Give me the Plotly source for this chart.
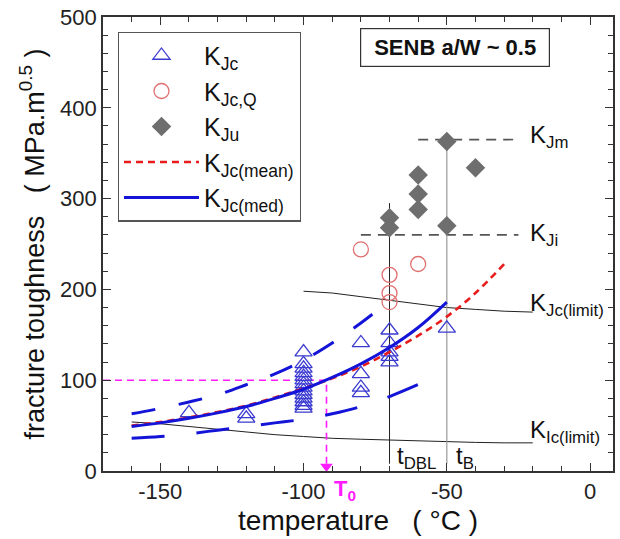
import plotly.graph_objects as go

# ---- measured fracture toughness (MPa.m^0.5) vs test temperature (°C) ----
kjc_t = [-140, -120, -120,
         -100, -100, -100, -100, -100, -100, -100, -100, -100, -100, -100, -100, -100, -100,
         -80, -80, -80, -80,
         -70, -70, -70, -70, -70,
         -50]
kjc_k = [64, 63, 58,
         131, 118, 113, 108, 104, 100, 96, 92, 88, 84, 80, 76, 72, 69,
         141, 107, 92, 86,
         155, 141, 131, 126, 120,
         157]

kjcq_t = [-80, -70, -70, -70, -60]
kjcq_k = [244, 216, 196, 186, 228]

kju_t = [-70, -70, -60, -60, -60, -50, -50, -40]
kju_k = [279, 268, 326, 305, 288, 363, 270, 334]

# ---- master curve and tolerance bounds ----
med_t = [-160, -150, -140, -130, -120, -110, -100, -90, -80, -70, -60, -50]
med_k = [49, 53, 58, 64, 71, 80, 90, 103, 118, 136, 158, 186]

mean_t = [-160, -150, -140, -130, -120, -110, -100, -90, -80, -70, -60, -50, -40, -30]
mean_k = [50, 54, 59, 65, 72, 81, 91, 102, 115, 131, 149, 170, 196, 228]

upper_t = [-160, -150, -140, -130, -120, -110, -100, -90, -80, -73]
upper_k = [63, 69, 76, 84, 95, 107, 122, 141, 163, 180]

lower_t = [-160, -150, -140, -130, -120, -110, -100, -90, -80, -70, -58]
lower_k = [36, 38, 41, 45, 49, 53, 57, 63, 71, 82, 98]

# ---- validity limits ----
jlim_t = [-100, -90, -80, -70, -60, -50, -40, -30, -20]
jlim_k = [198, 196, 192, 188, 184, 180, 178, 176, 175]

ilim_t = [-160, -150, -140, -130, -120, -110, -100, -90, -80, -70, -60, -50, -40, -30, -20]
ilim_k = [54, 52, 49, 46, 43, 40, 38, 36, 35, 34, 33, 32, 31.5, 31, 31]

# ---- reference levels ----
t0 = -92
k_t0 = 100
t_dbl = -70
t_b = -50
k_ji = 260
k_jm = 365
k_ji_start = -80
k_jm_start = -60
level_end = -25
label_t = -21.5

# ---- axis ticks ----
x_ticks = [-150, -100, -50, 0]
x_tick_text = ["-150", "-100", "-50", "0"]
y_ticks = [0, 100, 200, 300, 400, 500]

FONT = "Liberation Sans, Arial, sans-serif"
BLUE = "#1414d8"
TRI = "#3a3ad0"
RED = "#e81c1c"
CIRC = "#e07070"
GRAY = "#6e6e6e"
MAG = "#ff1cff"
NB = "\u00a0"

fig = go.Figure()

# guide lines (no legend)
fig.add_trace(go.Scatter(x=jlim_t, y=jlim_k, mode="lines", line=dict(color="#222", width=1),
                         showlegend=False, hoverinfo="skip"))
fig.add_trace(go.Scatter(x=ilim_t, y=ilim_k, mode="lines", line=dict(color="#222", width=1),
                         showlegend=False, hoverinfo="skip"))
fig.add_trace(go.Scatter(x=[k_ji_start, level_end], y=[k_ji, k_ji], mode="lines",
                         line=dict(color="#555", width=1.6, dash="10px,7px"),
                         showlegend=False, hoverinfo="skip"))
fig.add_trace(go.Scatter(x=[k_jm_start, level_end], y=[k_jm, k_jm], mode="lines",
                         line=dict(color="#555", width=1.6, dash="10px,7px"),
                         showlegend=False, hoverinfo="skip"))
fig.add_trace(go.Scatter(x=[t_dbl, t_dbl], y=[8, 295], mode="lines",
                         line=dict(color="#222", width=1), showlegend=False, hoverinfo="skip"))
fig.add_trace(go.Scatter(x=[t_b, t_b], y=[8, 365], mode="lines",
                         line=dict(color="#999", width=1.2), showlegend=False, hoverinfo="skip"))

# T0 construction
fig.add_trace(go.Scatter(x=[-170, t0, t0], y=[k_t0, k_t0, 8], mode="lines",
                         line=dict(color=MAG, width=1.6, dash="7px,5px"),
                         showlegend=False, hoverinfo="skip"))
fig.add_trace(go.Scatter(x=[t0], y=[5], mode="markers",
                         marker=dict(symbol="triangle-down", size=11, color=MAG),
                         showlegend=False, hoverinfo="skip"))

# tolerance bounds
fig.add_trace(go.Scatter(x=upper_t, y=upper_k, mode="lines", line_shape="spline",
                         line=dict(color=BLUE, width=3, dash="24px,24px"),
                         showlegend=False, hoverinfo="skip"))
fig.add_trace(go.Scatter(x=lower_t, y=lower_k, mode="lines", line_shape="spline",
                         line=dict(color=BLUE, width=3, dash="33px,32px"),
                         showlegend=False, hoverinfo="skip"))

# data
fig.add_trace(go.Scatter(x=kjc_t, y=kjc_k, mode="markers", name="K<sub>Jc</sub>",
                         marker=dict(symbol="triangle-up-open", size=15, color=TRI,
                                     line=dict(width=1.3))))
fig.add_trace(go.Scatter(x=kjcq_t, y=kjcq_k, mode="markers", name="K<sub>Jc,Q</sub>",
                         marker=dict(symbol="circle-open", size=15, color=CIRC,
                                     line=dict(width=1.3))))
fig.add_trace(go.Scatter(x=kju_t, y=kju_k, mode="markers", name="K<sub>Ju</sub>",
                         marker=dict(symbol="diamond", size=15, color=GRAY)))
fig.add_trace(go.Scatter(x=mean_t, y=mean_k, mode="lines", line_shape="spline",
                         name="K<sub>Jc(mean)</sub>",
                         line=dict(color=RED, width=2.6, dash="7px,5px")))
fig.add_trace(go.Scatter(x=med_t, y=med_k, mode="lines", line_shape="spline",
                         name="K<sub>Jc(med)</sub>",
                         line=dict(color=BLUE, width=3)))

ann = dict(showarrow=False, font=dict(family=FONT, size=24, color="#111"))
fig.add_annotation(x=label_t, y=k_jm + 3, text="K<sub>Jm</sub>", xanchor="left", yanchor="middle", **ann)
fig.add_annotation(x=label_t, y=k_ji, text="K<sub>Ji</sub>", xanchor="left", yanchor="middle", **ann)
fig.add_annotation(x=label_t, y=183, text="K<sub>Jc(limit)</sub>", xanchor="left", yanchor="middle", **ann)
fig.add_annotation(x=label_t, y=43, text="K<sub>Ic(limit)</sub>", xanchor="left", yanchor="middle", **ann)
fig.add_annotation(x=-68.2, y=15, text="t<sub>DBL</sub>", xanchor="left", yanchor="middle", **ann)
fig.add_annotation(x=-47.4, y=15, text="t<sub>B</sub>", xanchor="left", yanchor="middle", **ann)
fig.add_annotation(x=-85.5, y=-0.042, yref="paper", text="<b>T<sub>0</sub></b>",
                   showarrow=False, xanchor="center", yanchor="middle",
                   font=dict(family=FONT, size=22, color=MAG))
fig.add_annotation(x=-47, y=466, text="<b>SENB a/W ~ 0.5</b>", showarrow=False,
                   xanchor="center", yanchor="middle", width=186, height=35,
                   bordercolor="#333", borderwidth=1.2, bgcolor="white",
                   font=dict(family=FONT, size=22, color="#111"))

axis_common = dict(showline=True, linecolor="#333", linewidth=1.6, mirror="ticks",
                   ticks="inside", ticklen=8, tickwidth=1.3, tickcolor="#333",
                   showgrid=False, zeroline=False,
                   tickfont=dict(family=FONT, size=22, color="#222"))

fig.update_xaxes(range=[-170, 8], tickvals=x_ticks, ticktext=x_tick_text,
                 minor=dict(dtick=10, tick0=0, ticks="inside", ticklen=5, tickcolor="#333"),
                 title=dict(text="temperature   ( °C )", standoff=7,
                            font=dict(family=FONT, size=28, color="#111")),
                 **axis_common)
fig.update_yaxes(range=[0, 500], tickvals=y_ticks,
                 minor=dict(dtick=20, tick0=0, ticks="inside", ticklen=5, tickcolor="#333"),
                 title=dict(text="fracture toughness   ( MPa.m<sup>0.5</sup> )" + NB * 4,
                            standoff=8,
                            font=dict(family=FONT, size=27, color="#111")),
                 **axis_common)

fig.update_layout(
    width=620, height=539,
    margin=dict(l=103, r=5, t=16, b=68),
    paper_bgcolor="white", plot_bgcolor="white",
    font=dict(family=FONT, color="#111"),
    legend=dict(x=0.029, y=0.968, xanchor="left", yanchor="top",
                bgcolor="white", bordercolor="#555", borderwidth=1.2,
                font=dict(family=FONT, size=25, color="#111"),
                itemwidth=75, tracegroupgap=0, traceorder="normal"),
)

fig.write_html("out.html")
